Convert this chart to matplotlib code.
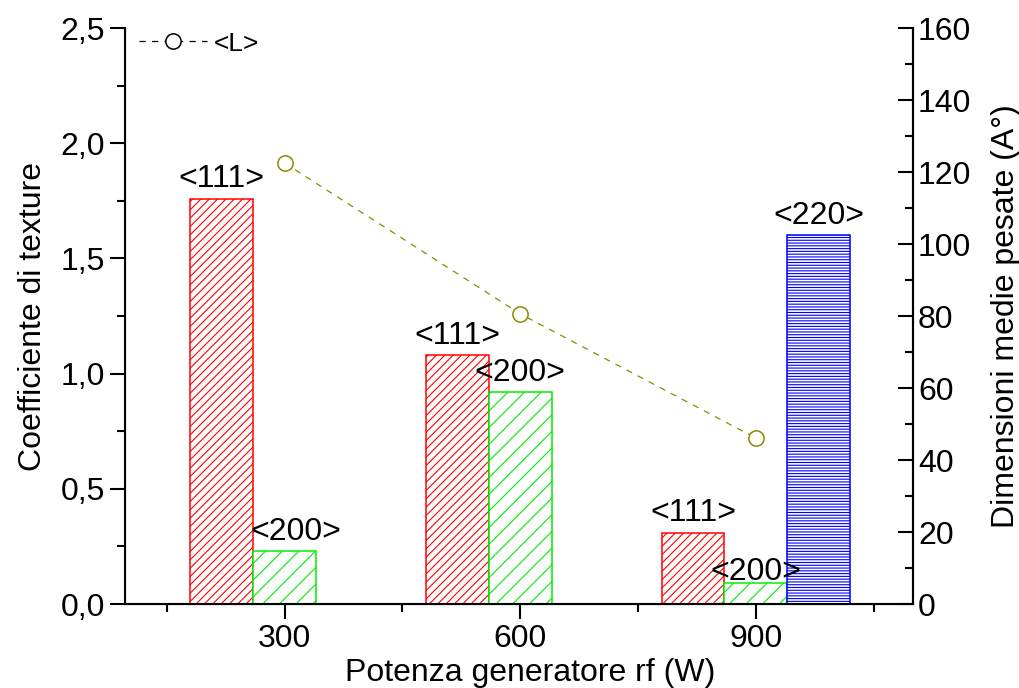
import numpy as np
import matplotlib.pyplot as plt
from matplotlib.lines import Line2D
from matplotlib.ticker import FuncFormatter, MultipleLocator

plt.rcParams['font.family'] = ['Liberation Sans', 'DejaVu Sans']
plt.rcParams['hatch.linewidth'] = 0.8

# data
power = np.array([300, 600, 900])
tex_111 = [1.76, 1.08, 0.31]
tex_200 = [0.23, 0.92, 0.09]
tex_220_pos = [900]
tex_220 = [1.60]
size_L = [122.5, 80.6, 46.1]

bw = 80

fig = plt.figure(figsize=(10.19, 6.88), dpi=100)
ax = fig.add_axes([0.1227, 0.122, 0.896 - 0.1227, 0.9593 - 0.122])

b1 = ax.bar(power - bw, tex_111, bw, facecolor='white', edgecolor='#ff0000',
            hatch='////', linewidth=1.1)
b2 = ax.bar(power, tex_200, bw, facecolor='white', edgecolor='#00ee00',
            hatch='//', linewidth=1.1)
b3 = ax.bar(np.array(tex_220_pos) + bw, tex_220, bw, facecolor='white',
            edgecolor='#0000ff', hatch='------', linewidth=1.1)

fs = 23
for r in b1:
    ax.annotate('<111>', (r.get_x() + r.get_width() / 2, r.get_height()),
                xytext=(0, 3), textcoords='offset points', ha='center',
                va='bottom', fontsize=fs)
off200 = [(8, 3), (0, 3), (0, -3)]
for r, o in zip(b2, off200):
    ax.annotate('<200>', (r.get_x() + r.get_width() / 2, r.get_height()),
                xytext=o, textcoords='offset points', ha='center',
                va='bottom', fontsize=fs)
for r in b3:
    ax.annotate('<220>', (r.get_x() + r.get_width() / 2, r.get_height()),
                xytext=(0, 3), textcoords='offset points', ha='center',
                va='bottom', fontsize=fs)

ax.set_xlim(97, 1100)
ax.set_ylim(0, 2.5)
ax.set_xticks(power)
ax.xaxis.set_minor_locator(MultipleLocator(300, offset=150))
ax.yaxis.set_major_locator(MultipleLocator(0.5))
ax.yaxis.set_minor_locator(MultipleLocator(0.25))
ax.yaxis.set_major_formatter(FuncFormatter(lambda v, p: f'{v:.1f}'.replace('.', ',')))
ax.tick_params(which='major', direction='out', length=11, width=1.5, labelsize=fs)
ax.tick_params(which='minor', direction='out', length=6, width=1.5)
ax.spines['top'].set_visible(False)
for s in ['left', 'bottom', 'right']:
    ax.spines[s].set_linewidth(1.5)
ax.set_xlabel('Potenza generatore rf (W)', fontsize=fs, labelpad=1)
ax.xaxis.set_label_coords(0.514, -0.093)
ax.set_ylabel('Coefficiente di texture', fontsize=fs, labelpad=9)

ax2 = ax.twinx()
ax2.plot(power, size_L, color='#8b8b00', linestyle=(0, (5, 5)), linewidth=0.9,
         marker='o', markersize=11, markerfacecolor='white',
         markeredgecolor='#8b8b00', markeredgewidth=1.1)
ax2.set_ylim(0, 160)
ax2.yaxis.set_major_locator(MultipleLocator(20))
ax2.yaxis.set_minor_locator(MultipleLocator(10))
ax2.tick_params(which='major', direction='in', length=11, width=1.5, labelsize=fs)
ax2.tick_params(which='minor', direction='in', length=6, width=1.5)
ax2.spines['top'].set_visible(False)
ax2.spines['right'].set_linewidth(1.5)
ax2.set_ylabel('Dimensioni medie pesate (A°)', fontsize=fs, labelpad=14)

h = Line2D([], [], color='black', linestyle=(0, (5, 5)), linewidth=0.9,
           marker='o', markersize=11, markerfacecolor='white',
           markeredgecolor='black', markeredgewidth=1.1)
ax2.legend([h], ['<L>'], loc='upper left', frameon=False, fontsize=19,
           handlelength=2.6, handletextpad=0.25, borderaxespad=0.0,
           bbox_to_anchor=(0.004, 1.012))

fig.savefig('out.png', dpi=100)
